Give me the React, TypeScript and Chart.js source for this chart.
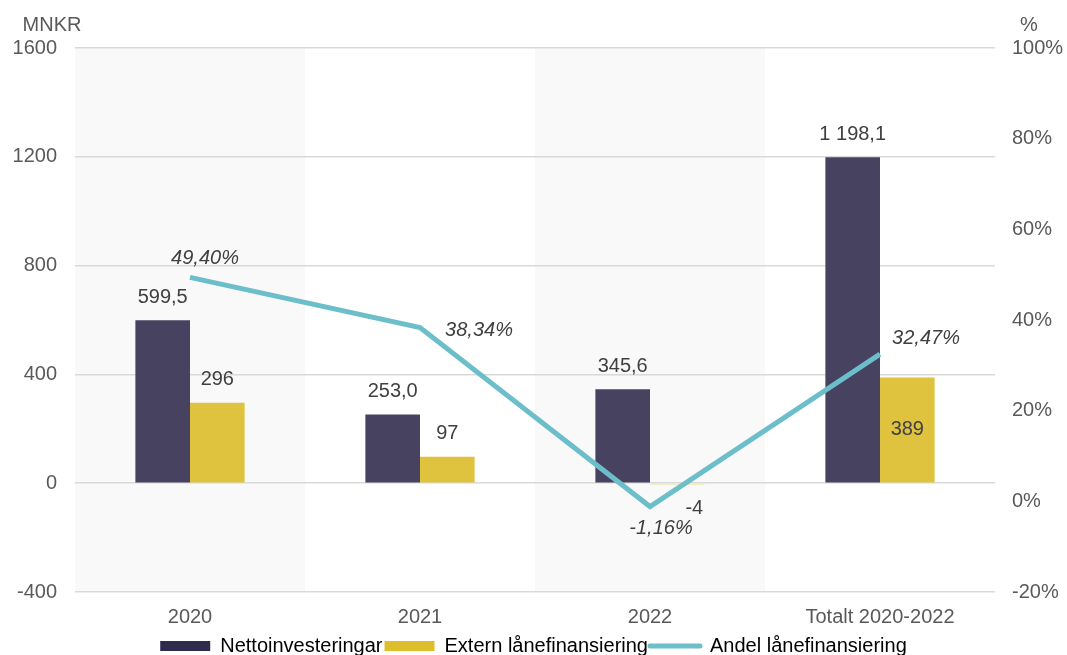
import React, { useEffect, useRef } from 'react';
import { Chart, registerables } from 'chart.js';

Chart.register(...registerables);

const categories = ['2020', '2021', '2022', 'Totalt 2020-2022'];
const nettoinvesteringar = [599.5, 253.0, 345.6, 1198.1];
const externLanefinansiering = [296, 97, -4, 389];
const andelLanefinansiering = [49.4, 38.34, -1.16, 32.47];
const seriesNames = ['Nettoinvesteringar', 'Extern lånefinansiering', 'Andel lånefinansiering'];
const leftAxisRange = [-400, 1600];
const leftAxisStep = 400;
const rightAxisRange = [-20, 100];
const rightAxisStep = 20;
const leftAxisTitle = 'MNKR';
const rightAxisTitle = '%';

const FONT = "'Liberation Sans', Arial, sans-serif";
const TICK_COLOR = '#595959';
const LABEL_COLOR = '#404040';
const DARK = '#46425f';
const YELLOW = '#dfc23d';
const TEAL = '#6cbfca';

const fmtOneDecimal = (v: number) => {
  const [i, d] = v.toFixed(1).split('.');
  return i.replace(/\B(?=(\d{3})+(?!\d))/g, ' ') + ',' + d;
};
const fmtInt = (v: number) => String(Math.round(v));
const fmtPct = (v: number) => v.toFixed(2).replace('.', ',') + '%';

const bandsPlugin = {
  id: 'bands',
  beforeDraw(chart: any) {
    const { ctx, chartArea, scales } = chart;
    const x = scales.x;
    const w = chartArea.width / categories.length;
    ctx.save();
    ctx.fillStyle = '#f9f9f9';
    categories.forEach((_, i) => {
      if (i % 2 === 0) {
        const cx = x.getPixelForValue(i);
        ctx.fillRect(cx - w / 2, chartArea.top, w, chartArea.bottom - chartArea.top);
      }
    });
    ctx.restore();
  },
};

const labelsPlugin = {
  id: 'valueLabels',
  afterDatasetsDraw(chart: any) {
    const { ctx } = chart;
    ctx.save();
    ctx.textAlign = 'center';
    ctx.textBaseline = 'middle';
    ctx.fillStyle = LABEL_COLOR;
    ctx.font = `20px ${FONT}`;
    const mNetto = chart.getDatasetMeta(1);
    mNetto.data.forEach((el: any, i: number) => {
      ctx.fillText(fmtOneDecimal(nettoinvesteringar[i]), el.x, el.y - 23);
    });
    const mExtern = chart.getDatasetMeta(2);
    mExtern.data.forEach((el: any, i: number) => {
      const v = externLanefinansiering[i];
      const t = fmtInt(v);
      if (i === 3) {
        ctx.fillText(t, el.x, (el.y + el.base) / 2);
      } else if (v < 0) {
        ctx.fillText(t, el.x + 17, el.y + 24);
      } else {
        ctx.fillText(t, el.x, el.y - 23);
      }
    });
    ctx.font = `italic 20px ${FONT}`;
    const offsets = [
      [15, -19],
      [59, 3],
      [11, 22],
      [46, -16],
    ];
    const mLine = chart.getDatasetMeta(0);
    mLine.data.forEach((el: any, i: number) => {
      ctx.fillText(fmtPct(andelLanefinansiering[i]), el.x + offsets[i][0], el.y + offsets[i][1]);
    });
    ctx.restore();
  },
};

const axisTitlesPlugin = {
  id: 'axisTitles',
  afterDraw(chart: any) {
    const { ctx } = chart;
    ctx.save();
    ctx.fillStyle = TICK_COLOR;
    ctx.font = `20px ${FONT}`;
    ctx.textAlign = 'center';
    ctx.textBaseline = 'middle';
    ctx.fillText(leftAxisTitle, 52, 25);
    ctx.fillText(rightAxisTitle, 1029, 25);
    ctx.restore();
  },
};

export default function App() {
  const ref = useRef<HTMLCanvasElement>(null);
  useEffect(() => {
    const canvas = ref.current!;
    const chart = new Chart(canvas, {
      type: 'bar',
      data: {
        labels: categories,
        datasets: [
          {
            type: 'line',
            label: seriesNames[2],
            data: andelLanefinansiering,
            yAxisID: 'y1',
            borderColor: TEAL,
            backgroundColor: TEAL,
            borderWidth: 5,
            pointRadius: 0,
            tension: 0,
            order: 0,
          } as any,
          {
            type: 'bar',
            label: seriesNames[0],
            data: nettoinvesteringar,
            yAxisID: 'y',
            backgroundColor: DARK,
            categoryPercentage: 0.475,
            barPercentage: 1,
            order: 1,
          },
          {
            type: 'bar',
            label: seriesNames[1],
            data: externLanefinansiering,
            yAxisID: 'y',
            backgroundColor: YELLOW,
            categoryPercentage: 0.475,
            barPercentage: 1,
            order: 2,
          },
        ],
      },
      options: {
        responsive: false,
        animation: false,
        devicePixelRatio: 1,
        layout: { padding: { top: 48, left: 0, right: 0, bottom: 0 } },
        plugins: {
          tooltip: { enabled: false },
          legend: {
            position: 'bottom',
            labels: {
              usePointStyle: true,
              pointStyleWidth: 50,
              boxHeight: 10,
              padding: 2,
              color: TICK_COLOR,
              font: { family: FONT, size: 20 },
              generateLabels: () => [
                { text: seriesNames[0], fillStyle: '#2e2b4c', strokeStyle: '#2e2b4c', lineWidth: 0, pointStyle: 'rect', datasetIndex: 1, hidden: false },
                { text: seriesNames[1], fillStyle: '#dfbe2c', strokeStyle: '#dfbe2c', lineWidth: 0, pointStyle: 'rect', datasetIndex: 2, hidden: false },
                { text: seriesNames[2], fillStyle: TEAL, strokeStyle: TEAL, lineWidth: 5, lineCap: 'round', pointStyle: 'line', datasetIndex: 0, hidden: false },
              ] as any,
            },
          },
        },
        scales: {
          x: {
            type: 'category',
            grid: { display: false, drawTicks: false },
            border: { display: false },
            ticks: { color: TICK_COLOR, font: { family: FONT, size: 20 }, padding: 13, maxRotation: 0, autoSkip: false },
            afterFit: (s: any) => { s.height = 42; },
          },
          y: {
            position: 'left',
            min: leftAxisRange[0],
            max: leftAxisRange[1],
            ticks: {
              stepSize: leftAxisStep,
              color: TICK_COLOR,
              font: { family: FONT, size: 20 },
              padding: 18,
              callback: (v: any) => String(v),
            },
            grid: { color: '#d9d9d9', lineWidth: 1.5, drawTicks: false },
            border: { display: false },
            afterFit: (s: any) => { s.width = 75; },
          },
          y1: {
            position: 'right',
            min: rightAxisRange[0],
            max: rightAxisRange[1],
            ticks: {
              stepSize: rightAxisStep,
              color: TICK_COLOR,
              font: { family: FONT, size: 20 },
              padding: 17,
              callback: (v: any) => `${v}%`,
            },
            grid: { display: false, drawTicks: false },
            border: { display: false },
            afterFit: (s: any) => { s.width = 72; },
          },
        },
      } as any,
      plugins: [bandsPlugin, labelsPlugin, axisTitlesPlugin],
    });
    return () => chart.destroy();
  }, []);
  return (
    <div style={{ position: 'fixed', left: 0, top: 0, width: 1067, height: 655, overflow: 'hidden', background: '#fff' }}>
      <canvas ref={ref} width={1067} height={666} style={{ display: 'block' }} />
    </div>
  );
}
